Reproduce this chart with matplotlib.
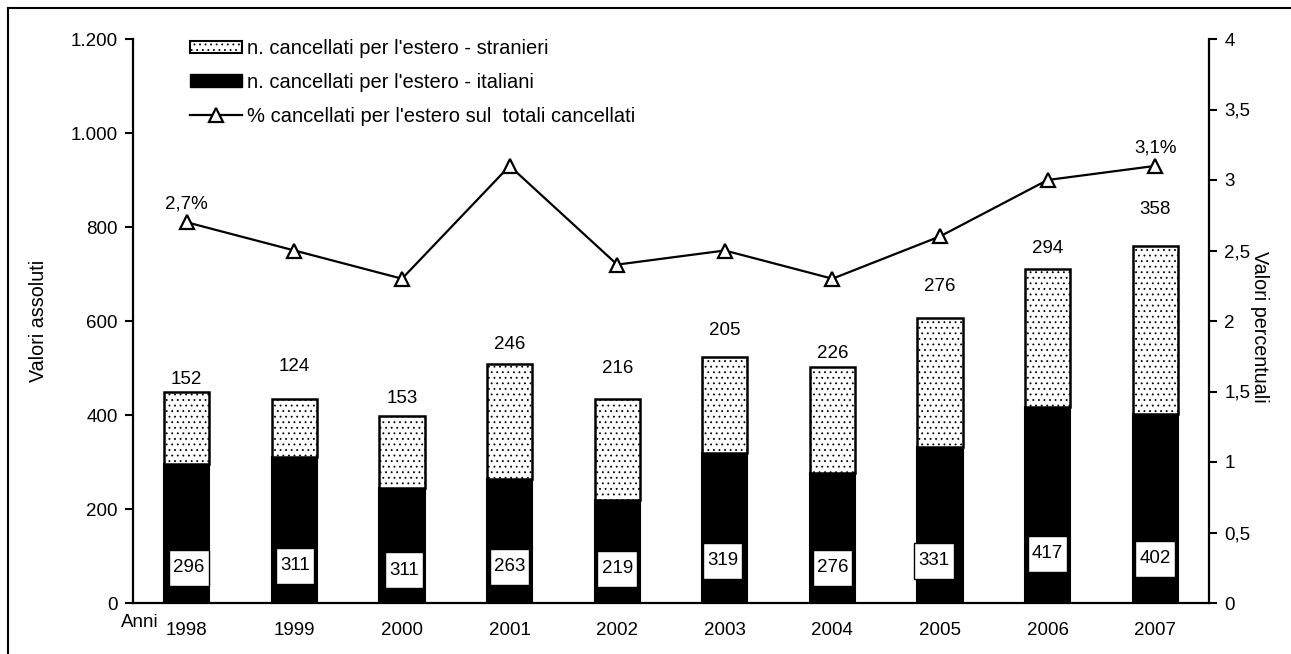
import matplotlib
matplotlib.use("Agg")
import matplotlib.pyplot as plt
from matplotlib.lines import Line2D
from matplotlib.patches import Patch
from matplotlib.path import Path
from matplotlib.ticker import FixedLocator, FuncFormatter

plt.rcParams['font.family'] = ['Liberation Sans', 'DejaVu Sans']
plt.rcParams['hatch.linewidth'] = 0.6

# ---- data ----
anni = ['1998', '1999', '2000', '2001', '2002', '2003', '2004', '2005', '2006', '2007']
italiani = [296, 311, 245, 263, 219, 319, 276, 331, 417, 402]          # bar heights
italiani_labels = ['296', '311', '311', '263', '219', '319', '276', '331', '417', '402']
stranieri = [152, 124, 153, 246, 216, 205, 226, 276, 294, 358]
stranieri_labels = ['152', '124', '153', '246', '216', '205', '226', '276', '294', '358']
percentuale = [2.7, 2.5, 2.3, 3.1, 2.4, 2.5, 2.3, 2.6, 3.0, 3.1]
pct_labels = ['2,7%', '', '', '', '', '', '', '', '', '3,1%']

# ---- layout helpers (not data) ----
str_label_gap_px = [13, 32, 17, 19, 30, 26, 14, 31, 20, 36]
ita_label_y = [75, 79, 70, 77, 73, 90, 75, 90, 105, 94]
ita_label_dx_px = [2, 1, 2, 0, 0, -2, 0, -6, 0, 0]

FS = 13.5
FS_LEG = 14.5
FS_LAB = 14.2
fig = plt.figure(figsize=(12.91, 6.54), dpi=100)
ax = fig.add_axes([133/1291, 1-603/654, (1209-133)/1291, (603-39)/654])
ax2 = ax.twinx()


def tall_box(x0, y0, width, height, mutation_size):
    padx = 0.22 * mutation_size
    pady = 0.50 * mutation_size
    x0, y0 = x0 - padx, y0 - pady
    x1, y1 = x0 + width + 2 * padx, y0 + height + 2 * pady
    return Path([(x0, y0), (x1, y0), (x1, y1), (x0, y1), (x0, y0)],
                [Path.MOVETO, Path.LINETO, Path.LINETO, Path.LINETO, Path.CLOSEPOLY])


x = list(range(len(anni)))
w = 0.42
ax.bar(x, italiani, width=w, color='black', edgecolor='black', linewidth=1.5, zorder=2)
ax.bar(x, stranieri, width=w, bottom=italiani, facecolor='white', edgecolor='black',
       linewidth=1.8, hatch='...', zorder=2)

px2pt = 0.72
for i in x:
    top = italiani[i] + stranieri[i]
    ax.annotate(stranieri_labels[i], (i, top), xytext=(0, str_label_gap_px[i]*px2pt),
                textcoords='offset points', ha='center', va='center', fontsize=FS)
    ax.annotate(italiani_labels[i], (i, ita_label_y[i]), xytext=(ita_label_dx_px[i]*px2pt, 0),
                textcoords='offset points', ha='center', va='center', fontsize=FS, zorder=5,
                bbox=dict(boxstyle=tall_box, facecolor='white', edgecolor='black', linewidth=1.0))

ax2.plot(x, percentuale, color='black', linewidth=1.6, marker='^', markersize=10,
         markerfacecolor='white', markeredgecolor='black', markeredgewidth=1.6, zorder=4)
for i in x:
    if pct_labels[i]:
        ax2.annotate(pct_labels[i], (i, percentuale[i]), xytext=(0, 18*px2pt),
                     textcoords='offset points', ha='center', va='center', fontsize=FS)

ax.set_xlim(-0.5, len(anni)-0.5)
ax.set_ylim(0, 1200)
ax2.set_ylim(0, 4)
ax.set_xticks(x)
ax.set_xticklabels(anni, fontsize=FS)
ax.tick_params(axis='x', length=0, pad=14)
ax.yaxis.set_major_locator(FixedLocator([0, 200, 400, 600, 800, 1000, 1200]))
ax.yaxis.set_major_formatter(FuncFormatter(lambda v, p: f"{int(v):,}".replace(',', '.')))
ax.tick_params(axis='y', length=6, width=1.5, pad=5, labelsize=FS, direction='out')
ax2.yaxis.set_major_locator(FixedLocator([0, 0.5, 1, 1.5, 2, 2.5, 3, 3.5, 4]))
ax2.yaxis.set_major_formatter(FuncFormatter(lambda v, p: (f"{v:g}").replace('.', ',')))
ax2.tick_params(axis='y', length=6, width=1.5, pad=5, labelsize=FS, direction='out')

for a in (ax, ax2):
    a.spines['top'].set_visible(False)
    for s in ('left', 'right', 'bottom'):
        a.spines[s].set_linewidth(1.6)
ax.spines['right'].set_visible(False)
ax2.spines['left'].set_visible(False)
ax2.spines['bottom'].set_visible(False)

ax.set_ylabel('Valori assoluti', fontsize=FS_LAB)
ax.yaxis.set_label_coords(-0.079, 0.5)
ax2.set_ylabel('Valori percentuali', fontsize=FS_LAB, rotation=-90, va='center')
ax2.yaxis.set_label_coords(1.047, 0.49)

ax.text(0.0065, -0.035, 'Anni', transform=ax.transAxes, ha='center', va='center', fontsize=FS)

handles = [Patch(facecolor='white', edgecolor='black', hatch='...', linewidth=1.5),
           Patch(facecolor='black', edgecolor='black'),
           Line2D([0], [0], color='black', linewidth=1.6, marker='^', markersize=10,
                  markerfacecolor='white', markeredgecolor='black', markeredgewidth=1.6)]
labels = ["n. cancellati per l'estero - stranieri", "n. cancellati per l'estero - italiani",
          "% cancellati per l'estero sul  totali cancellati"]
fig.legend(handles, labels, loc='upper left', bbox_to_anchor=(190/1291, 1-39/654),
           bbox_transform=fig.transFigure, frameon=False, fontsize=FS_LEG, borderpad=0,
           borderaxespad=0, handlelength=2.6, handleheight=0.6, handletextpad=0.25,
           labelspacing=0.74)

# outer frame (left and top edges visible)
fig.add_artist(Line2D([8/1291, 8/1291], [0, 1-8/654], transform=fig.transFigure,
                      color='black', linewidth=1.5))
fig.add_artist(Line2D([8/1291, 1], [1-8/654, 1-8/654], transform=fig.transFigure,
                      color='black', linewidth=1.5))

fig.savefig('out.png', dpi=100)
